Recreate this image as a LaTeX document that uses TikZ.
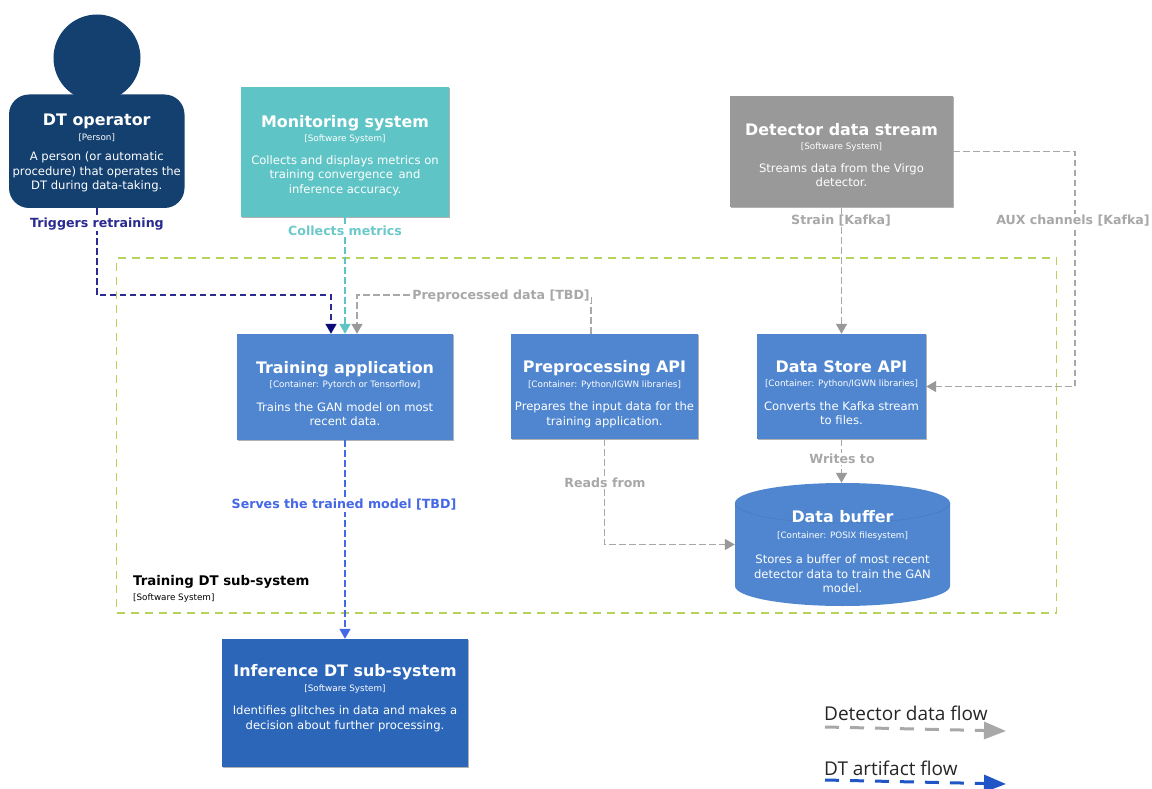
\documentclass[tikz,border=0pt]{standalone}
\usepackage{fontspec}
\setmainfont{DejaVu Sans}
\newfontfamily\legendfont{Open Sans}
\usetikzlibrary{arrows.meta,shadows,calc}
\definecolor{opblue}{HTML}{14406F}
\definecolor{teal}{HTML}{5FC4C6}
\definecolor{tealtxt}{HTML}{6CC9CA}
\definecolor{stream}{HTML}{999999}
\definecolor{contblue}{HTML}{4F86CF}
\definecolor{infblue}{HTML}{2B66B8}
\definecolor{limeb}{HTML}{B6D35C}
\definecolor{navyl}{HTML}{2A2A90}
\definecolor{navyh}{HTML}{0A0A78}
\definecolor{grayl}{HTML}{A8A8A8}
\definecolor{grayh}{HTML}{999999}
\definecolor{servel}{HTML}{4468E6}
\definecolor{legblue}{HTML}{1F55C4}
\newcommand\ttl{\fontsize{15.9}{16}\selectfont\bfseries}
\newcommand\subl{\fontsize{8.8}{9}\selectfont}
\newcommand\dsc{\fontsize{11.6}{12}\selectfont}
\newcommand\boxtext[2]{\raisebox{#1}[0pt][0pt]{\renewcommand\arraystretch{1}\begin{tabular}{@{}c@{}}#2\end{tabular}}}
\tikzset{
  x=1pt,y=-1pt,
  cbox/.style={rectangle,inner sep=0pt,text=white,font=\fontsize{10}{14.5}\selectfont,
    drop shadow={shadow xshift=1pt,shadow yshift=-1pt,opacity=.3,fill=black}},
  flow/.style={line width=1.5pt,dash pattern=on 6.5pt off 3.5pt},
  tipped/.style={-{Triangle[length=10pt,width=11pt,fill=#1,color=#1]}},
  edgelabel/.style={fill=white,inner sep=1pt,font=\fontsize{12.6}{14}\selectfont\bfseries},
  legline/.style={line width=3pt,dash pattern=on 14pt off 11pt},
  legtext/.style={inner sep=0pt,anchor=west,text=black!85,font=\legendfont\fontsize{19}{22}\selectfont},
}
\begin{document}
\begin{tikzpicture}
\useasboundingbox (0,0) rectangle (1152,789);
\fill[white] (0,0) rectangle (1152,789);

% boundary
\node[rectangle,draw=limeb,line width=1.6pt,dash pattern=on 8pt off 6pt,minimum width=940pt,minimum height=355pt,inner sep=0pt] (boundary) at (586.5,435.5) {};
\node[anchor=north west,inner sep=0pt,align=left,font=\fontsize{10}{16}\selectfont] (boundlabel) at (133,575)
  {{\fontsize{13.3}{14}\selectfont\bfseries Training DT sub-system}\\[-0.5pt]{\subl [Software System]}};

% person
\node[circle,fill=opblue,minimum size=87pt,inner sep=0pt] (head) at (97,58) {};
\node[rectangle,fill=opblue,rounded corners=20pt,minimum width=175.5pt,minimum height=113.5pt,inner sep=0pt,text=white,font=\fontsize{10}{14.5}\selectfont] (op) at (96.75,151.25)
 {\boxtext{-5.5pt}{{\ttl DT operator}\\{\subl [Person]}\\[6pt]{\dsc A person (or automatic}\\{\dsc procedure) that operates the}\\{\dsc DT during data-taking.}}};

% software systems
\node[cbox,fill=teal,minimum width=208pt,minimum height=130pt] (mon) at (345,152)
 {\boxtext{-7pt}{{\ttl Monitoring system}\\{\subl [Software System]}\\[8pt]{\dsc Collects and displays metrics on}\\{\dsc training convergence\, and}\\{\dsc inference accuracy.}}};
\node[cbox,fill=stream,minimum width=223pt,minimum height=111pt] (det) at (841.5,151.5)
 {\boxtext{-8pt}{{\ttl Detector data stream}\\{\subl [Software System]}\\[8pt]{\dsc Streams data from the Virgo}\\{\dsc detector.}}};

% containers
\node[cbox,fill=contblue,minimum width=216pt,minimum height=106pt] (train) at (345,387)
 {\boxtext{-11pt}{{\ttl Training application}\\{\subl [Container: Pytorch or Tensorflow]}\\[9pt]{\dsc Trains the GAN model on most}\\{\dsc recent data.}}};
\node[cbox,fill=contblue,minimum width=187pt,minimum height=105pt] (prep) at (604.5,386.5)
 {\boxtext{-11pt}{{\ttl Preprocessing API}\\{\subl [Container: Python/IGWN libraries]}\\[9pt]{\dsc Prepares the input data for the}\\{\dsc training application.}}};
\node[cbox,fill=contblue,minimum width=169pt,minimum height=105pt] (store) at (841.5,386.5)
 {\boxtext{-11pt}{{\ttl Data Store API}\\{\subl [Container: Python/IGWN libraries]}\\[9pt]{\dsc Converts the Kafka stream}\\{\dsc to files.}}};

% data buffer cylinder
\fill[contblue] (735,503) -- (735,586) arc[start angle=180,end angle=360,x radius=107.5pt,y radius=20pt] -- (950,503) arc[start angle=0,end angle=180,x radius=107.5pt,y radius=20pt] -- cycle;
\draw[contblue!90!black,line width=.4pt] (735,503) arc[start angle=180,end angle=360,x radius=107.5pt,y radius=20pt];
\node[rectangle,inner sep=0pt,text=white,font=\fontsize{10}{14.5}\selectfont,minimum width=215pt,minimum height=123pt] (buffer) at (842.5,544.5)
 {\boxtext{-12pt}{{\ttl Data buffer}\\[1pt]{\subl [Container: POSIX filesystem]}\\[11pt]{\dsc Stores a buffer of most recent}\\{\dsc detector data to train the GAN}\\{\dsc model.}}};

% inference
\node[cbox,fill=infblue,minimum width=246pt,minimum height=128pt] (inf) at (345,703)
 {\boxtext{1.5pt}{{\ttl Inference DT sub-system}\\{\subl [Software System]}\\[9pt]{\dsc Identifies glitches in data and makes a}\\{\dsc decision about further processing.}}};

% connectors
\coordinate (trainA) at ($(train.north)+(-14,0)$);
\coordinate (trainB) at ($(train.north)+(12,0)$);
\coordinate (prepT) at ($(prep.north)+(-13.5,0)$);
\coordinate (opbend) at (96.75,295);
\coordinate (prepbend) at (prepT |- opbend);
\coordinate (auxbend) at (1075,151.5);

\draw[flow,draw=navyl,tipped=navyh] (op.south) -- (opbend) -- (opbend -| trainA) -- (trainA);
\draw[flow,draw=teal,tipped=teal] (mon.south) -- (train.north);
\draw[flow,draw=grayl,tipped=grayh] (prepT) -- (prepbend) -- (prepbend -| trainB) -- (trainB);
\draw[flow,draw=grayl,tipped=grayh] (det.south) -- (store.north);
\draw[flow,draw=grayl,tipped=grayh] (det.east) -- (auxbend) -- (auxbend |- store.east) -- (store.east);
\draw[flow,draw=grayl,tipped=grayh] (store.south) -- (store.south |- buffer.north);
\draw[flow,draw=grayl,tipped=grayh] (prep.south) -- (prep.south |- buffer.west) -- (buffer.west);
\draw[flow,draw=servel,tipped=servel] (train.south) -- (inf.north);

% connector labels
\node[edgelabel,text=navyl] (l1) at (97,224) {Triggers retraining};
\node[edgelabel,text=tealtxt] (l2) at (345,231) {Collects metrics};
\node[edgelabel,text=grayl] (l3) at (501,296) {Preprocessed data [TBD]};
\node[edgelabel,text=grayl] (l4) at (841,220.5) {Strain [Kafka]};
\node[edgelabel,text=grayl] (l5) at (1073,220.5) {AUX channels [Kafka]};
\node[edgelabel,text=grayl] (l6) at (842,459) {Writes to};
\node[edgelabel,text=grayl] (l7) at (605,483) {Reads from};
\node[edgelabel,text=servel] (l8) at (344,505) {Serves the trained model [TBD]};

% legend
\node[legtext] (leg1) at (824,713) {Detector data flow};
\node[legtext] (leg2) at (824,768) {DT artifact flow};
\coordinate (leg1a) at (825,727);
\coordinate (leg1b) at (1006,731);
\coordinate (leg2a) at (825,780);
\coordinate (leg2b) at (1006,784);
\draw[legline,draw=grayl,-{Triangle[length=22pt,width=17pt,fill=grayl,color=grayl]}] (leg1a) -- (leg1b);
\draw[legline,draw=legblue,-{Triangle[length=22pt,width=17pt,fill=legblue,color=legblue]}] (leg2a) -- (leg2b);
\end{tikzpicture}
\end{document}
